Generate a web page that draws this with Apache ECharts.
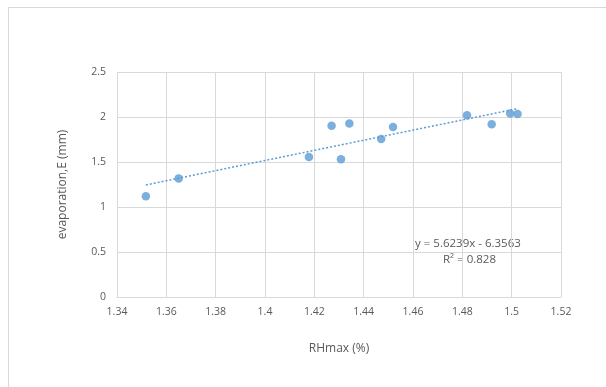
<!DOCTYPE html>
<html><head><meta charset="utf-8">
<script src="https://cdn.jsdelivr.net/npm/echarts@6/dist/echarts.min.js"></script>
<style>html,body{margin:0;padding:0;background:#fff}#c{width:606px;height:387px}</style>
</head><body><div id="c"></div>
<script>
const rhMax = [1.3517, 1.365, 1.4178, 1.427, 1.4308, 1.4342, 1.4471, 1.4519, 1.4819, 1.4919, 1.4994, 1.5024];
const evaporation = [1.12, 1.318, 1.556, 1.904, 1.530, 1.927, 1.756, 1.890, 2.020, 1.920, 2.038, 2.034];
const trendX = [1.3517, 1.5024];
const trendY = [1.245, 2.093];
const equationText = 'y = 5.6239x - 6.3563';
const r2Text = 'R² = 0.828';
const xTicks = {min: 1.34, max: 1.52, interval: 0.02};
const yTicks = {min: 0, max: 2.5, interval: 0.5};

const chart = echarts.init(document.getElementById('c'));
const txt = '#595959', grid = '#d9d9d9', blue = '#5B9BD5';
const font = 'Open Sans';
chart.setOption({
  animation: false,
  graphic: [
    {type: 'rect', shape: {x: 8.5, y: 7.5, width: 700, height: 500}, style: {fill: 'none', stroke: '#d9d9d9', lineWidth: 1}, silent: true},
    {type: 'text', left: 415, top: 238, style: {text: equationText, fill: txt, font: '11.5px ' + font}},
    {type: 'text', left: 443, top: 254, style: {text: r2Text, fill: txt, font: '11.5px ' + font}}
  ],
  grid: {left: 117, right: 45, top: 72, bottom: 90},
  xAxis: {
    type: 'value', min: xTicks.min, max: xTicks.max, interval: xTicks.interval,
    name: 'RHmax (%)', nameLocation: 'middle', nameGap: 46,
    nameTextStyle: {color: txt, fontSize: 12, fontFamily: font},
    axisLine: {lineStyle: {color: grid}}, axisTick: {show: false},
    axisLabel: {color: txt, fontSize: 10.5, fontFamily: font, margin: 10,
      formatter: v => String(parseFloat(v.toFixed(2)))},
    splitLine: {show: true, lineStyle: {color: grid}}
  },
  yAxis: {
    type: 'value', min: yTicks.min, max: yTicks.max, interval: yTicks.interval,
    name: 'evaporation,E (mm)', nameLocation: 'middle', nameGap: 48, nameRotate: 90,
    nameTextStyle: {color: txt, fontSize: 12, fontFamily: font},
    axisLine: {show: true, lineStyle: {color: grid}}, axisTick: {show: false},
    axisLabel: {color: txt, fontSize: 10.5, fontFamily: font, margin: 11,
      formatter: v => String(parseFloat(v.toFixed(1)))},
    splitLine: {show: true, lineStyle: {color: grid}}
  },
  series: [
    {type: 'line', data: trendX.map((x, i) => [x, trendY[i]]), symbol: 'none',
     lineStyle: {color: blue, width: 1.5, type: [2, 2]}, z: 1, silent: true},
    {type: 'scatter', data: rhMax.map((x, i) => [x, evaporation[i]]), symbolSize: 8.5,
     itemStyle: {color: blue}, z: 2}
  ]
});
</script></body></html>
